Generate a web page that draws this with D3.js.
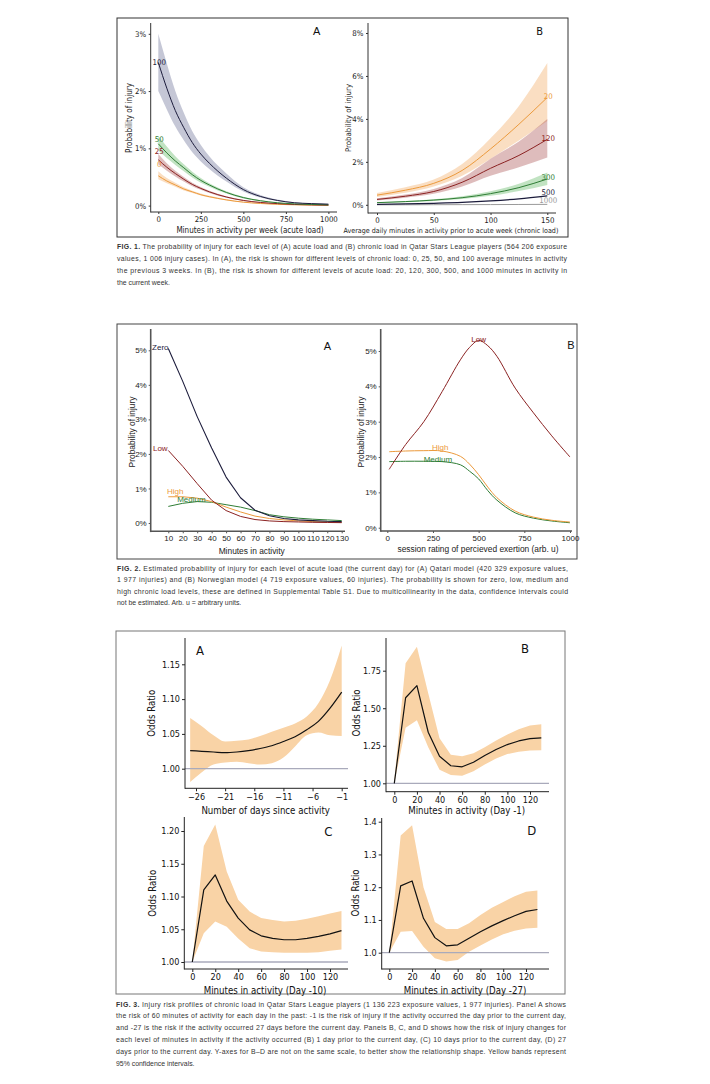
<!DOCTYPE html>
<html><head><meta charset="utf-8">
<script src="https://cdn.jsdelivr.net/npm/d3@7"></script>
<style>body{margin:0;background:#fff}</style>
</head><body><svg id="c" width="710" height="1084"></svg>
<script>
// ---------------- DATA ----------------
// FIG 1A : acute load (min/week) vs probability (%) for chronic loads
const f1aX = [0, 50, 100, 150, 200, 250, 300, 400, 500, 600, 700, 800, 900, 1000];
const f1aC100 = [2.50, 2.05, 1.66, 1.36, 1.10, 0.90, 0.74, 0.48, 0.28, 0.16, 0.09, 0.05, 0.035, 0.025];
const f1aC100lo = [2.00, 1.68, 1.38, 1.14, 0.93, 0.77, 0.64, 0.42, 0.245, 0.14, 0.08, 0.045, 0.03, 0.02];
const f1aC100hi = [3.00, 2.48, 2.00, 1.62, 1.30, 1.06, 0.86, 0.56, 0.32, 0.185, 0.105, 0.06, 0.04, 0.03];
const f1aC50 = [1.08, 0.92, 0.78, 0.66, 0.54, 0.44, 0.36, 0.23, 0.14, 0.085, 0.05, 0.03, 0.02, 0.012];
const f1aC50lo = [0.96, 0.83, 0.71, 0.60, 0.49, 0.40, 0.33, 0.21, 0.125, 0.075, 0.045, 0.026, 0.017, 0.01];
const f1aC50hi = [1.22, 1.03, 0.86, 0.72, 0.59, 0.48, 0.39, 0.25, 0.155, 0.095, 0.056, 0.034, 0.023, 0.014];
const f1aC25 = [0.80, 0.67, 0.56, 0.46, 0.37, 0.30, 0.24, 0.15, 0.09, 0.055, 0.035, 0.02, 0.013, 0.008];
const f1aC25lo = [0.72, 0.61, 0.51, 0.42, 0.34, 0.275, 0.22, 0.135, 0.08, 0.049, 0.031, 0.018, 0.011, 0.007];
const f1aC25hi = [0.90, 0.74, 0.61, 0.50, 0.40, 0.325, 0.26, 0.165, 0.10, 0.061, 0.039, 0.022, 0.015, 0.009];
const f1aC0 = [0.52, 0.43, 0.36, 0.29, 0.24, 0.19, 0.155, 0.10, 0.06, 0.037, 0.022, 0.014, 0.009, 0.006];
const f1aC0lo = [0.46, 0.39, 0.33, 0.265, 0.22, 0.175, 0.14, 0.09, 0.054, 0.033, 0.02, 0.012, 0.008, 0.005];
const f1aC0hi = [0.60, 0.48, 0.40, 0.32, 0.26, 0.21, 0.17, 0.11, 0.066, 0.041, 0.025, 0.016, 0.01, 0.007];
const f1aNames = ["100", "50", "25", "0"];

// FIG 1B : chronic load (avg daily min) vs probability (%) for acute loads
const f1bX = [0, 25, 50, 75, 100, 125, 150];
const f1bA20 = [0.45, 0.68, 1.00, 1.60, 2.60, 3.75, 5.00];
const f1bA20lo = [0.36, 0.56, 0.85, 1.35, 2.15, 3.00, 3.90];
const f1bA20hi = [0.55, 0.82, 1.18, 1.90, 3.10, 4.60, 6.60];
const f1bA120 = [0.25, 0.40, 0.62, 1.05, 1.70, 2.30, 3.05];
const f1bA120lo = [0.20, 0.33, 0.51, 0.85, 1.35, 1.75, 2.20];
const f1bA120hi = [0.30, 0.48, 0.74, 1.25, 2.15, 2.95, 4.00];
const f1bA300 = [0.10, 0.15, 0.22, 0.33, 0.52, 0.80, 1.20];
const f1bA300lo = [0.08, 0.12, 0.18, 0.27, 0.42, 0.64, 0.92];
const f1bA300hi = [0.12, 0.18, 0.26, 0.40, 0.63, 0.98, 1.50];
const f1bA500 = [0.02, 0.04, 0.07, 0.11, 0.18, 0.28, 0.42];
const f1bA1000 = [0.00, 0.00, 0.005, 0.008, 0.01, 0.015, 0.02];
const f1bNames = ["20", "120", "300", "500", "1000"];

// FIG 2A : minutes in activity vs probability (%), Qatari model
const f2aX = [10, 20, 30, 40, 50, 60, 70, 80, 90, 100, 110, 120, 130];
const f2aZero = [5.05, 4.10, 3.08, 2.17, 1.33, 0.73, 0.37, 0.21, 0.13, 0.09, 0.07, 0.05, 0.04];
const f2aLow = [2.10, 1.64, 1.14, 0.66, 0.36, 0.19, 0.10, 0.06, 0.04, 0.03, 0.02, 0.015, 0.01];
const f2aHigh = [0.76, 0.76, 0.72, 0.62, 0.46, 0.32, 0.20, 0.13, 0.09, 0.06, 0.04, 0.03, 0.02];
const f2aMedium = [0.48, 0.57, 0.62, 0.60, 0.53, 0.46, 0.36, 0.24, 0.18, 0.14, 0.11, 0.09, 0.07];

// FIG 2B : session RPE vs probability (%), Norwegian model
const f2bX = [10, 100, 200, 300, 400, 450, 500, 550, 600, 700, 800, 900, 1000];
const f2bLow = [1.65, 2.35, 3.00, 3.85, 4.75, 5.10, 5.30, 5.15, 4.85, 3.95, 3.25, 2.60, 2.00];
const f2bHigh = [2.15, 2.17, 2.18, 2.17, 2.02, 1.80, 1.50, 1.15, 0.85, 0.47, 0.30, 0.21, 0.16];
const f2bMedium = [1.87, 1.88, 1.88, 1.87, 1.78, 1.60, 1.38, 1.05, 0.78, 0.42, 0.27, 0.19, 0.14];

// FIG 3A : days since activity vs odds ratio
const f3aX = [-27, -25, -23, -21, -19, -17, -15, -13, -11, -9, -7, -5, -3, -1];
const f3aOR = [1.026, 1.025, 1.024, 1.023, 1.024, 1.026, 1.029, 1.033, 1.039, 1.046, 1.056, 1.068, 1.087, 1.110];
const f3aLo = [0.981, 0.995, 1.006, 1.009, 1.010, 1.008, 1.006, 1.008, 1.016, 1.032, 1.048, 1.052, 1.048, 1.047];
const f3aHi = [1.073, 1.061, 1.048, 1.039, 1.040, 1.042, 1.047, 1.053, 1.059, 1.065, 1.075, 1.094, 1.127, 1.177];

// FIG 3B-D : minutes in activity vs odds ratio
const f3Min = [0, 10, 20, 30, 40, 50, 60, 70, 80, 90, 100, 110, 120, 130];
const f3bOR = [1.00, 1.57, 1.65, 1.34, 1.18, 1.117, 1.11, 1.14, 1.185, 1.225, 1.258, 1.282, 1.297, 1.302];
const f3bLo = [1.00, 1.37, 1.42, 1.24, 1.09, 1.056, 1.05, 1.08, 1.125, 1.165, 1.195, 1.21, 1.218, 1.22];
const f3bHi = [1.02, 1.80, 1.91, 1.60, 1.30, 1.19, 1.18, 1.20, 1.24, 1.285, 1.325, 1.36, 1.385, 1.393];
const f3cOR = [1.00, 1.110, 1.133, 1.093, 1.067, 1.049, 1.040, 1.036, 1.034, 1.034, 1.036, 1.039, 1.043, 1.048];
const f3cLo = [1.00, 1.044, 1.062, 1.054, 1.036, 1.021, 1.016, 1.015, 1.014, 1.014, 1.014, 1.015, 1.017, 1.019];
const f3cHi = [1.00, 1.177, 1.210, 1.138, 1.095, 1.077, 1.067, 1.064, 1.062, 1.063, 1.066, 1.070, 1.074, 1.078];
const f3dOR = [1.00, 1.204, 1.219, 1.105, 1.046, 1.021, 1.024, 1.044, 1.064, 1.082, 1.098, 1.113, 1.126, 1.132];
const f3dLo = [1.00, 1.064, 1.066, 1.018, 0.983, 0.973, 0.978, 1.003, 1.022, 1.040, 1.056, 1.067, 1.074, 1.076];
const f3dHi = [1.00, 1.358, 1.389, 1.200, 1.094, 1.072, 1.072, 1.090, 1.115, 1.137, 1.155, 1.172, 1.186, 1.190];

// tick labels
const f1aXTicks = [0, 250, 500, 750, 1000];
const f1aYTicks = [0, 1, 2, 3];
const f1bXTicks = [0, 50, 100, 150];
const f1bYTicks = [0, 2, 4, 6, 8];
const f2aXTicks = [10, 20, 30, 40, 50, 60, 70, 80, 90, 100, 110, 120, 130];
const f2aYTicks = [0, 1, 2, 3, 4, 5];
const f2bXTicks = [0, 250, 500, 750, 1000];
const f2bYTicks = [0, 1, 2, 3, 4, 5];
const f3aXTicks = [-26, -21, -16, -11, -6, -1];
const f3aYTicks = [1.00, 1.05, 1.10, 1.15];
const f3MinTicks = [0, 20, 40, 60, 80, 100, 120];
const f3bYTicks = [1.00, 1.25, 1.50, 1.75];
const f3cYTicks = [1.00, 1.05, 1.10, 1.15, 1.20];
const f3dYTicks = [1.0, 1.1, 1.2, 1.3, 1.4];

// captions
const cap1 = [
  ["FIG. 1.", " The probability of injury for each level of (A) acute load and (B) chronic load in Qatar Stars League players (564 206 exposure"],
  ["", "values, 1 006 injury cases). In (A), the risk is shown for different levels of chronic load: 0, 25, 50, and 100 average minutes in activity"],
  ["", "the previous 3 weeks. In (B), the risk is shown for different levels of acute load: 20, 120, 300, 500, and 1000 minutes in activity in"],
  ["", "the current week."]
];
const cap2 = [
  ["FIG. 2.", " Estimated probability of injury for each level of acute load (the current day) for (A) Qatari model (420 329 exposure values,"],
  ["", "1 977 injuries) and (B) Norwegian model (4 719 exposure values, 60 injuries). The probability is shown for zero, low, medium and"],
  ["", "high chronic load levels, these are defined in Supplemental Table S1. Due to multicollinearity in the data, confidence intervals could"],
  ["", "not be estimated. Arb. u = arbitrary units."]
];
const cap3 = [
  ["FIG. 3.", " Injury risk profiles of chronic load in Qatar Stars League players (1 136 223 exposure values, 1 977 injuries). Panel A shows"],
  ["", "the risk of 60 minutes of activity for each day in the past: -1 is the risk of injury if the activity occurred the day prior to the current day,"],
  ["", "and -27 is the risk if the activity occurred 27 days before the current day. Panels B, C, and D shows how the risk of injury changes for"],
  ["", "each level of minutes in activity if the activity occurred (B) 1 day prior to the current day, (C) 10 days prior to the current day, (D) 27"],
  ["", "days prior to the current day. Y-axes for B\u2013D are not on the same scale, to better show the relationship shape. Yellow bands represent"],
  ["", "95% confidence intervals."]
];

// ---------------- DRAWING ----------------
const svg = d3.select("#c");
svg.append("rect").attr("width", 710).attr("height", 1084).attr("fill", "#fff");

const C = {
  navy: "#1c1c3c", red: "#8b2222", green: "#2f7d35", orange: "#ec9a3c", grey: "#9a9a9a",
  navyB: "#5a5f8a", redB: "#a04040", greenB: "#4caf50", orangeB: "#f0a050",
  peach: "#f9d3a6", ref: "#a9aabb"
};
const F1 = "'DejaVu Sans Condensed', 'DejaVu Sans', sans-serif";
const F2 = "'Liberation Sans', Arial, sans-serif";
const F3 = "'DejaVu Sans Condensed', 'DejaVu Sans', sans-serif";

function box(x0, y0, x1, y1, col, w) {
  svg.append("rect").attr("x", x0).attr("y", y0).attr("width", x1 - x0).attr("height", y1 - y0)
    .attr("fill", "none").attr("stroke", col).attr("stroke-width", w);
}

function axes(o) {
  const gx = svg.append("g").attr("transform", `translate(0,${o.ay})`)
    .call(d3.axisBottom(o.x).tickValues(o.xTicks).tickFormat(o.xFmt).tickSize(o.tick).tickPadding(o.pad));
  gx.select(".domain").remove();
  gx.attr("font-family", o.font).attr("font-size", o.size);
  gx.selectAll("line").attr("stroke", o.color).attr("stroke-width", o.tw || 1);
  gx.selectAll("text").attr("fill", o.tcolor);
  const gy = svg.append("g").attr("transform", `translate(${o.ax},0)`)
    .call(d3.axisLeft(o.y).tickValues(o.yTicks).tickFormat(o.yFmt).tickSize(o.tick).tickPadding(o.pad));
  gy.select(".domain").remove();
  gy.attr("font-family", o.font).attr("font-size", o.size);
  gy.selectAll("line").attr("stroke", o.color).attr("stroke-width", o.tw || 1);
  gy.selectAll("text").attr("fill", o.tcolor);
  svg.append("line").attr("x1", o.ax).attr("x2", o.xEnd).attr("y1", o.ay).attr("y2", o.ay)
    .attr("stroke", o.color).attr("stroke-width", o.lw);
  svg.append("line").attr("x1", o.ax).attr("x2", o.ax).attr("y1", o.yTop).attr("y2", o.ay + o.lw / 2)
    .attr("stroke", o.color).attr("stroke-width", o.lw);
  // titles
  svg.append("text").attr("x", o.xtPos[0]).attr("y", o.xtPos[1]).attr("text-anchor", "middle")
    .attr("dominant-baseline", "central").attr("font-family", o.font).attr("font-size", o.xtsize || o.tsize)
    .attr("fill", o.tcolor).text(o.xTitle);
  svg.append("text").attr("transform", `translate(${o.ytPos[0]},${o.ytPos[1]}) rotate(-90)`)
    .attr("text-anchor", "middle").attr("dominant-baseline", "central").attr("font-family", o.font)
    .attr("font-size", o.tsize).attr("fill", o.tcolor).text(o.yTitle);
  svg.append("text").attr("x", o.letter[1]).attr("y", o.letter[2]).attr("text-anchor", "middle")
    .attr("dominant-baseline", "central").attr("font-family", o.lfont || o.font)
    .attr("font-size", o.lsize).attr("fill", "#111").text(o.letter[0]);
}

function band(xs, lo, hi, x, y, fill, op, curve) {
  const a = d3.area().x((d, i) => x(xs[i])).y0((d, i) => y(lo[i])).y1((d, i) => y(hi[i])).curve(curve);
  svg.append("path").attr("d", a(xs)).attr("fill", fill).attr("fill-opacity", op).attr("stroke", "none");
}
function line(xs, v, x, y, col, w, curve) {
  const l = d3.line().x((d, i) => x(xs[i])).y((d, i) => y(v[i])).curve(curve);
  svg.append("path").attr("d", l(xs)).attr("fill", "none").attr("stroke", col).attr("stroke-width", w)
    .attr("stroke-linejoin", "round");
}
function label(txt, px, py, col, font, size) {
  svg.append("text").attr("x", px).attr("y", py).attr("text-anchor", "middle")
    .attr("dominant-baseline", "central").attr("font-family", font).attr("font-size", size)
    .attr("fill", col).text(txt);
}

const pct = d => d + "%";
const smooth = d3.curveMonotoneX;

// ===== FIG 1 =====
box(117, 18, 568, 237, "#333", 1);
{
  const x = d3.scaleLinear().domain([0, 1000]).range([158.3, 328.4]);
  const y = d3.scaleLinear().domain([0, 3]).range([205.6, 33.8]);
  band(f1aX, f1aC0lo, f1aC0hi, x, y, C.orangeB, 0.35, smooth);
  band(f1aX, f1aC25lo, f1aC25hi, x, y, C.redB, 0.35, smooth);
  band(f1aX, f1aC50lo, f1aC50hi, x, y, C.greenB, 0.35, smooth);
  band(f1aX, f1aC100lo, f1aC100hi, x, y, C.navyB, 0.35, smooth);
  line(f1aX, f1aC0, x, y, C.orange, 1, smooth);
  line(f1aX, f1aC25, x, y, C.red, 1, smooth);
  line(f1aX, f1aC50, x, y, C.green, 1, smooth);
  line(f1aX, f1aC100, x, y, C.navy, 1, smooth);
  const starts = [f1aC100[0], f1aC50[0], f1aC25[0], f1aC0[0]];
  const cols = [C.navy, C.green, C.red, C.orange];
  const lift = [0, 0.08, 0.14, 0.19];
  f1aNames.forEach((n, i) => label(n, x(f1aX[0]) + 1, y(starts[i] + lift[i]), cols[i], F1, 7.8));
  axes({ x, y, ax: 150.7, ay: 212, xEnd: 337, yTop: 23, xTicks: f1aXTicks, yTicks: f1aYTicks,
    xFmt: d3.format("d"), yFmt: pct, tick: 2, pad: 2.5, font: F1, size: 7.8, tsize: 8, color: "#333",
    tcolor: "#222", lw: 1, xTitle: "Minutes in activity per week (acute load)", xtPos: [250, 230],
    yTitle: "Probability of injury", ytPos: [129, 118], letter: ["A", 316.7, 31.3], lsize: 11, lfont: F2 });
}
{
  const x = d3.scaleLinear().domain([0, 150]).range([377, 547.3]);
  const y = d3.scaleLinear().domain([0, 8]).range([204.8, 33]);
  band(f1bX, f1bA20lo, f1bA20hi, x, y, C.orangeB, 0.35, smooth);
  band(f1bX, f1bA120lo, f1bA120hi, x, y, C.redB, 0.35, smooth);
  band(f1bX, f1bA300lo, f1bA300hi, x, y, C.greenB, 0.35, smooth);
  line(f1bX, f1bA1000, x, y, C.grey, 1, smooth);
  line(f1bX, f1bA500, x, y, C.navy, 1.2, smooth);
  line(f1bX, f1bA300, x, y, C.green, 1, smooth);
  line(f1bX, f1bA120, x, y, C.red, 1, smooth);
  line(f1bX, f1bA20, x, y, C.orange, 1, smooth);
  const ends = [f1bA20[6], f1bA120[6], f1bA300[6], f1bA500[6], f1bA1000[6]];
  const cols = [C.orange, C.red, C.green, C.navy, C.grey];
  const lift = [0.05, 0.05, 0.08, 0.13, 0.16];
  f1bNames.forEach((n, i) => label(n, x(150) + 1, y(ends[i] + lift[i]), cols[i], F1, 7.8));
  axes({ x, y, ax: 368, ay: 213, xEnd: 556, yTop: 23, xTicks: f1bXTicks, yTicks: f1bYTicks,
    xFmt: d3.format("d"), yFmt: pct, tick: 2, pad: 2.5, font: F1, size: 7.8, tsize: 7.8, xtsize: 7.1,
    color: "#333", tcolor: "#222", lw: 1,
    xTitle: "Average daily minutes in activity prior to acute week (chronic load)",
    xtPos: [451, 230], yTitle: "Probability of injury", ytPos: [348, 118], letter: ["B", 539.7, 31], lsize: 11 });
}

// ===== FIG 2 =====
box(117, 324, 577, 559, "#444", 1);
{
  const x = d3.scaleLinear().domain([10, 130]).range([168.3, 341.7]);
  const y = d3.scaleLinear().domain([0, 5]).range([523, 350.3]);
  const lin = d3.curveLinear;
  line(f2aX, f2aMedium, x, y, C.green, 1, lin);
  line(f2aX, f2aHigh, x, y, C.orange, 1, lin);
  line(f2aX, f2aLow, x, y, C.red, 1, lin);
  line(f2aX, f2aZero, x, y, C.navy, 1.1, lin);
  label("Zero", x(10) - 8, y(f2aZero[0]) - 1.5, C.navy, F2, 8);
  label("Low", x(10) - 8, y(f2aLow[0]) - 1.5, C.red, F2, 8);
  label("High", x(10) + 7, y(f2aHigh[0]) - 5.5, C.orange, F2, 8);
  label("Medium", x(26), y(f2aMedium[2]) - 2, C.green, F2, 8);
  axes({ x, y, ax: 150.7, ay: 531.3, xEnd: 345, yTop: 329, xTicks: f2aXTicks, yTicks: f2aYTicks,
    xFmt: d3.format("d"), yFmt: pct, tick: 2, pad: 2, font: F2, size: 8, tsize: 8.4, color: "#555",
    tcolor: "#222", lw: 1.6, xTitle: "Minutes in activity", xtPos: [251.7, 551.3],
    yTitle: "Probability of injury", ytPos: [132.3, 432], letter: ["A", 327.3, 346], lsize: 11 });
}
{
  const x = d3.scaleLinear().domain([0, 1000]).range([387.3, 570]);
  const y = d3.scaleLinear().domain([0, 5]).range([527.7, 351]);
  const cr = d3.curveCatmullRom.alpha(0.5);
  line(f2bX, f2bMedium, x, y, C.green, 1, cr);
  line(f2bX, f2bHigh, x, y, C.orange, 1, cr);
  line(f2bX, f2bLow, x, y, C.red, 1, cr);
  label("Low", x(500), y(f2bLow[6]) - 1, C.red, F2, 8);
  label("High", x(290), y(2.27), C.orange, F2, 8);
  label("Medium", x(277), y(1.93), C.green, F2, 8);
  axes({ x, y, ax: 380.7, ay: 531, xEnd: 572, yTop: 329, xTicks: f2bXTicks, yTicks: f2bYTicks,
    xFmt: d3.format("d"), yFmt: pct, tick: 2, pad: 2, font: F2, size: 8, tsize: 8.4, color: "#555",
    tcolor: "#222", lw: 1.6, xTitle: "session rating of percieved exertion (arb. u)", xtPos: [478, 549],
    yTitle: "Probability of injury", ytPos: [360.7, 432], letter: ["B", 571, 345], lsize: 11 });
}

// ===== FIG 3 =====
box(116, 631, 565, 994, "#777", 1);
function orPanel(xs, orv, lo, hi, x, y, o) {
  band(xs, lo, hi, x, y, C.peach, 1, d3.curveLinear);
  svg.append("line").attr("x1", o.ax).attr("x2", o.xEnd).attr("y1", y(1)).attr("y2", y(1))
    .attr("stroke", C.ref).attr("stroke-width", 1.3);
  line(xs, orv, x, y, "#111", 1.2, o.curve || d3.curveLinear);
  axes(Object.assign({ x, y, tick: 3, pad: 2, font: F3, size: 9, tsize: 9.6, color: "#222", tcolor: "#111",
    lw: 1, lsize: 13, yTitle: "Odds Ratio" }, o));
}
{
  const x = d3.scaleLinear().domain([-26, -1]).range([196, 341.7]);
  const y = d3.scaleLinear().domain([1.00, 1.15]).range([768.7, 664.3]);
  const sx = d3.curveMonotoneX;
  band(f3aX, f3aLo, f3aHi, x, y, C.peach, 1, sx);
  svg.append("line").attr("x1", 185).attr("x2", 348).attr("y1", y(1)).attr("y2", y(1))
    .attr("stroke", C.ref).attr("stroke-width", 1.3);
  line(f3aX, f3aOR, x, y, "#111", 1.2, sx);
  axes({ x, y, ax: 185, ay: 788.3, xEnd: 348, yTop: 638, xTicks: f3aXTicks, yTicks: f3aYTicks,
    xFmt: d3.format("d"), yFmt: d3.format(".2f"), tick: 3, pad: 2, font: F3, size: 9, tsize: 9.6,
    color: "#222", tcolor: "#111", lw: 1, xTitle: "Number of days since activity", xtPos: [265.7, 810.7],
    yTitle: "Odds Ratio", ytPos: [151.7, 713.3], letter: ["A", 200, 650], lsize: 13 });
}
{
  const x = d3.scaleLinear().domain([0, 120]).range([394.3, 530]);
  const y = d3.scaleLinear().domain([1, 1.75]).range([783.3, 670.7]);
  orPanel(f3Min, f3bOR, f3bLo, f3bHi, x, y, { ax: 386, ay: 791.7, xEnd: 549, yTop: 638,
    xTicks: f3MinTicks, yTicks: f3bYTicks, xFmt: d3.format("d"), yFmt: d3.format(".2f"),
    xTitle: "Minutes in activity (Day -1)", xtPos: [466.7, 810], ytPos: [356.7, 713], letter: ["B", 525, 648.3] });
}
{
  const x = d3.scaleLinear().domain([0, 120]).range([192.3, 330]);
  const y = d3.scaleLinear().domain([1, 1.2]).range([962, 831]);
  orPanel(f3Min, f3cOR, f3cLo, f3cHi, x, y, { ax: 184.3, ay: 969, xEnd: 348, yTop: 817,
    xTicks: f3MinTicks, yTicks: f3cYTicks, xFmt: d3.format("d"), yFmt: d3.format(".2f"),
    xTitle: "Minutes in activity (Day -10)", xtPos: [265, 990], ytPos: [152.3, 893.3], letter: ["C", 328.3, 831] });
}
{
  const x = d3.scaleLinear().domain([0, 120]).range([389.3, 526]);
  const y = d3.scaleLinear().domain([1, 1.4]).range([952.7, 821.7]);
  orPanel(f3Min, f3dOR, f3dLo, f3dHi, x, y, { ax: 381.7, ay: 969, xEnd: 549, yTop: 818,
    xTicks: f3MinTicks, yTicks: f3dYTicks, xFmt: d3.format("d"), yFmt: d3.format(".1f"),
    xTitle: "Minutes in activity (Day -27)", xtPos: [465, 990], ytPos: [355, 893], letter: ["D", 531.7, 830] });
}

// ===== CAPTIONS =====
function caption(lines, x0, x1, y0, dy) {
  lines.forEach((ln, i) => {
    const t = svg.append("text").attr("x", x0).attr("y", y0 + i * dy)
      .attr("font-family", F2).attr("font-size", 6.9).attr("fill", "#333");
    if (i < lines.length - 1) t.attr("textLength", x1 - x0).attr("lengthAdjust", "spacing");
    if (ln[0]) t.append("tspan").attr("font-weight", "bold").text(ln[0]);
    t.append("tspan").text(ln[1]);
  });
}
caption(cap1, 117, 567, 248.5, 12);
caption(cap2, 117, 568, 570.5, 11.6);
caption(cap3, 116, 566, 1006.5, 11.8);
</script></body></html>
